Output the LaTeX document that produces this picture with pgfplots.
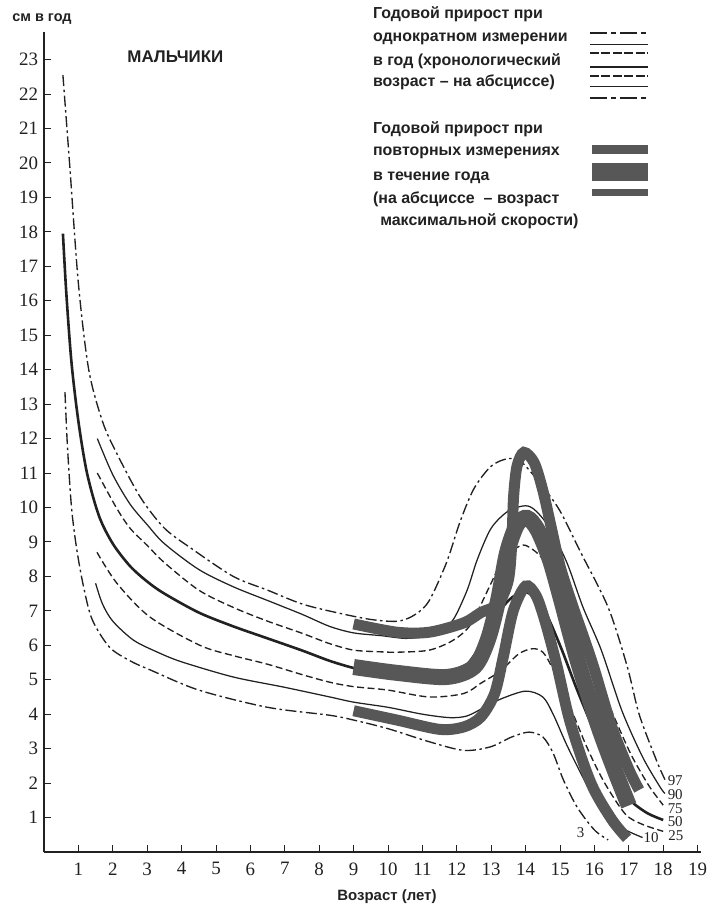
\documentclass[border=0pt]{standalone}
\usepackage{pgfplots}
\pgfplotsset{compat=1.18}
\usepackage{fontspec}
\setmainfont{Liberation Serif}
\newfontfamily\sans{Liberation Sans}
\definecolor{band}{gray}{0.34}
\definecolor{ink}{gray}{0.13}
\tikzset{
  dd/.style={ink, line width=1.35bp, dash pattern=on 11bp off 3.5bp on 2.5bp off 3.5bp},
  ds/.style={ink, line width=1.35bp, dash pattern=on 7bp off 3.5bp},
  th/.style={ink, line width=1.25bp},
  tk/.style={ink, line width=2.6bp},
  ddl/.style={ink, line width=1.5bp, dash pattern=on 17bp off 4bp on 5bp off 4bp},
  dsl/.style={ink, line width=1.5bp, dash pattern=on 9bp off 2.5bp},
  lg/.style={text=ink, anchor=mid west, inner sep=0pt, font=\sans\bfseries\fontsize{16}{17}\selectfont},
  cl/.style={text=ink, inner sep=0pt, font=\fontsize{15}{15}\selectfont},
}
\begin{document}
\begin{tikzpicture}
\path[use as bounding box] (-44bp,-57bp) rectangle (669bp,852bp);
\begin{axis}[
  at={(0,0)}, anchor=origin,
  x=34.4bp, y=34.45bp,
  xmin=0, xmax=19.1, ymin=0, ymax=23.8,
  axis lines*=left,
  axis line style={ink, line width=1.3bp},
  xtick={1,...,19}, ytick={1,...,23},
  tick align=inside, major tick length=7bp,
  tick style={ink, line width=1bp},
  tick label style={font=\fontsize{19}{19}\selectfont, text=ink},
  /pgf/number format/assume math mode=true,
  xticklabel style={yshift=-7bp},
  yticklabel style={xshift=-2.5bp},
  clip=false,
  every axis plot/.append style={forget plot},
]
% ---- chronological percentile curves ----
% 97
\addplot[dd, smooth] coordinates {(0.55,22.55) (0.75,19.9) (1.0,16.5) (1.3,14.0) (1.7,12.5) (2.1,11.6) (2.8,10.3) (3.5,9.4) (4.3,8.8) (5.5,8.0) (6.5,7.6) (7.5,7.2) (8.5,6.95) (9.5,6.75) (10.3,6.7) (10.8,6.9) (11.2,7.3) (11.7,8.4) (12.1,9.6) (12.5,10.55) (13.0,11.2) (13.5,11.42) (13.9,11.3) (14.5,10.6) (15.0,9.9) (15.6,8.7) (16.4,7.1) (16.95,5.4) (17.3,4.0) (17.8,2.67) (18.05,2.1)};
% 90
\addplot[th, smooth] coordinates {(1.55,12.0) (2.0,10.95) (2.5,10.1) (3.0,9.5) (3.5,8.95) (4.5,8.2) (5.5,7.7) (6.5,7.3) (7.5,6.9) (8.3,6.55) (9.0,6.36) (9.8,6.28) (10.5,6.2) (11.0,6.25) (11.5,6.4) (11.9,6.75) (12.3,7.6) (12.6,8.5) (13.0,9.4) (13.5,9.9) (14.0,10.05) (14.3,9.9) (14.7,9.4) (15.2,8.4) (15.67,7.1) (16.2,5.86) (16.8,4.1) (17.4,2.76) (17.9,1.9) (18.05,1.7)};
% 75
\addplot[ds, smooth] coordinates {(1.55,11.0) (2.1,10.0) (2.5,9.4) (3.0,8.9) (3.5,8.4) (4.5,7.6) (5.5,7.1) (6.5,6.7) (7.5,6.35) (8.3,6.05) (9.0,5.86) (9.8,5.81) (10.3,5.8) (11.2,5.86) (11.9,6.15) (12.4,6.6) (12.9,7.6) (13.3,8.4) (13.7,8.8) (14.0,8.9) (14.5,8.5) (15.0,7.5) (15.5,6.2) (16.1,5.0) (16.7,3.63) (17.1,2.76) (17.6,1.9) (18.0,1.36)};
% 50
\addplot[tk, smooth] coordinates {(0.55,17.95) (0.65,16.2) (0.8,14.2) (1.0,12.5) (1.25,11.0) (1.6,9.75) (2.0,8.95) (2.5,8.3) (3.0,7.85) (3.5,7.5) (4.5,6.95) (5.5,6.55) (6.5,6.2) (7.5,5.85) (8.3,5.55) (9.0,5.34) (10.0,5.1) (11.0,5.0) (12.0,5.2) (12.5,5.7) (13.0,6.6) (13.5,7.3) (14.0,7.55) (14.5,7.1) (15.0,6.0) (15.5,4.7) (16.0,3.5) (16.5,2.45) (16.95,1.6) (17.5,1.15) (18.0,0.93)};
% 25
\addplot[ds, smooth] coordinates {(1.54,8.7) (2.12,7.8) (3.08,6.82) (4.53,6.0) (5.5,5.7) (6.5,5.45) (7.5,5.15) (8.3,4.93) (9.0,4.8) (10.0,4.7) (11.2,4.5) (12.2,4.6) (12.7,4.9) (13.26,5.25) (13.8,5.75) (14.2,5.9) (14.5,5.8) (14.8,5.3) (15.3,4.2) (15.8,3.0) (16.3,2.0) (16.9,1.1) (17.4,0.8) (18.0,0.6)};
% 10
\addplot[th, smooth] coordinates {(1.5,7.8) (1.7,7.2) (2.0,6.7) (2.6,6.15) (3.3,5.8) (4.0,5.52) (5.5,5.08) (6.95,4.79) (8.31,4.5) (9.0,4.35) (10.0,4.2) (11.0,4.0) (11.8,3.9) (12.3,3.95) (12.8,4.2) (13.3,4.45) (14.0,4.67) (14.5,4.5) (14.8,4.0) (15.2,3.1) (15.7,2.1) (16.2,1.2) (16.8,0.7) (17.4,0.42)};
% 3
\addplot[dd, smooth] coordinates {(0.61,13.35) (0.68,11.8) (0.8,10.0) (0.95,8.8) (1.15,7.7) (1.4,6.75) (1.9,5.95) (2.5,5.55) (3.1,5.28) (4.5,4.7) (6.5,4.2) (8.3,3.97) (9.0,3.83) (10.0,3.58) (11.2,3.2) (12.2,2.95) (12.97,3.05) (13.6,3.34) (14.1,3.48) (14.5,3.34) (14.8,2.87) (15.1,2.09) (15.5,1.3) (16.0,0.64) (16.4,0.35)};
% ---- longitudinal velocity bands ----
\addplot[band, line width=11bp, smooth, line cap=butt] coordinates {(9.0,4.1) (10.26,3.83) (11.5,3.56) (12.2,3.63) (12.7,3.92) (13.1,4.6) (13.35,5.66) (13.64,7.0) (14.0,7.72) (14.3,7.45) (14.55,6.75) (14.9,5.45) (15.3,3.75) (15.9,2.0) (16.5,0.95) (16.95,0.4)};
\addplot[band, line width=16bp, smooth, line cap=butt] coordinates {(9.0,5.37) (10.26,5.2) (11.7,5.08) (12.5,5.37) (12.9,6.15) (13.2,7.3) (13.46,8.68) (13.75,9.5) (14.04,9.7) (14.35,9.35) (14.7,8.5) (15.0,7.45) (15.5,5.6) (16.1,3.7) (16.6,2.35) (17.0,1.35)};
\addplot[band, line width=11bp, smooth, line cap=butt] coordinates {(9.0,6.62) (10.26,6.38) (11.2,6.38) (12.2,6.65) (12.7,6.95) (13.2,7.2) (13.5,7.9) (13.6,9.0) (13.65,10.3) (13.75,11.2) (13.95,11.6) (14.25,11.3) (14.5,10.5) (14.75,9.4) (15.0,8.3) (15.35,7.2) (15.7,6.2) (16.0,5.3) (16.5,3.65) (17.0,2.4) (17.3,1.8)};
% ---- legend samples ----
\addplot[ddl] coordinates {(15.87,23.77) (17.56,23.77)};
\addplot[th] coordinates {(15.87,23.45) (17.56,23.45)};
\addplot[dsl] coordinates {(15.87,23.19) (17.56,23.19)};
\addplot[tk] coordinates {(15.87,22.79) (17.56,22.79)};
\addplot[dsl] coordinates {(15.87,22.53) (17.56,22.53)};
\addplot[th] coordinates {(15.87,22.21) (17.56,22.21)};
\addplot[ddl] coordinates {(15.87,21.89) (17.56,21.89)};
\addplot[band, line width=9bp] coordinates {(15.93,20.38) (17.56,20.38)};
\addplot[band, line width=18bp] coordinates {(15.93,19.74) (17.56,19.74)};
\addplot[band, line width=7bp] coordinates {(15.93,19.13) (17.56,19.13)};
% ---- texts ----
\node[text=ink, font=\sans\bfseries\fontsize{14.5}{15}\selectfont] at (axis cs:-0.06,24.18) {см в год};
\node[text=ink, font=\sans\bfseries\fontsize{17}{18}\selectfont] at (axis cs:3.82,23.09) {МАЛЬЧИКИ};
\node[text=ink, font=\sans\bfseries\fontsize{15}{16}\selectfont] at (axis cs:9.97,-1.31) {Возраст (лет)};
\node[lg] at (axis cs:9.56,24.27) {Годовой прирост при};
\node[lg] at (axis cs:9.56,23.6) {однократном измерении};
\node[lg] at (axis cs:9.56,22.9) {в год (хронологический};
\node[lg] at (axis cs:9.56,22.29) {возраст – на абсциссе)};
\node[lg] at (axis cs:9.56,20.93) {Годовой прирост при};
\node[lg] at (axis cs:9.56,20.29) {повторных измерениях};
\node[lg] at (axis cs:9.56,19.56) {в течение года};
\node[lg] at (axis cs:9.56,18.9) {(на абсциссе \ – возраст};
\node[lg] at (axis cs:9.77,18.26) {максимальной скорости)};
\node[cl] at (axis cs:18.35,2.07) {97};
\node[cl] at (axis cs:18.35,1.67) {90};
\node[cl] at (axis cs:18.35,1.27) {75};
\node[cl] at (axis cs:18.35,0.87) {50};
\node[cl] at (axis cs:18.37,0.47) {25};
\node[cl] at (axis cs:17.65,0.42) {10};
\node[cl] at (axis cs:15.6,0.55) {3};
\end{axis}
\end{tikzpicture}
\end{document}
